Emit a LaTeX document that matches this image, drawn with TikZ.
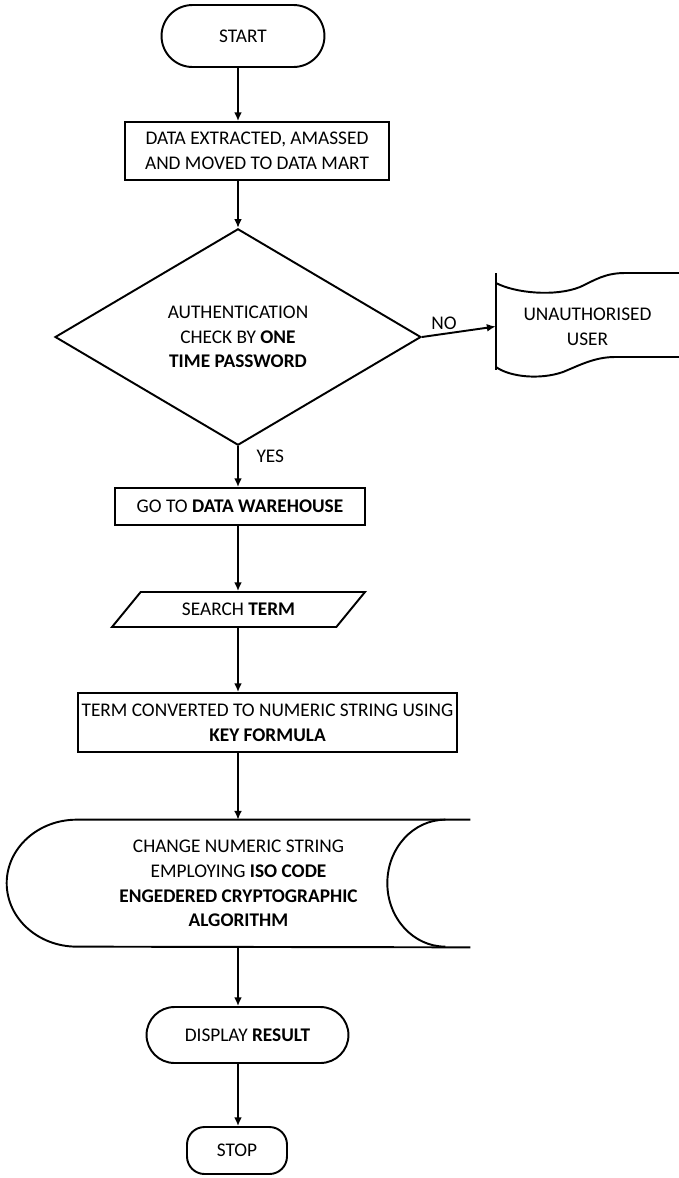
\documentclass[tikz,border=0pt]{standalone}
\usepackage{fontspec}
\setmainfont{Carlito}
\usepackage{tikz}
\usetikzlibrary{shapes.geometric, shapes.misc, arrows.meta}

\begin{document}
\begin{tikzpicture}[
    x=0.02cm, y=-0.02cm,
    every node/.style={font=\fontsize{11}{14}\selectfont, align=center, inner sep=2pt},
    terminal/.style={rounded rectangle, draw, line width=1.1pt},
    process/.style={rectangle, draw, line width=1.1pt},
    decision/.style={diamond, draw, line width=1.1pt, minimum width=7.32cm, minimum height=3.48cm},
    inout/.style={trapezium, trapezium left angle=34.5, trapezium right angle=145.5, draw, line width=1.1pt, minimum height=0.7cm, trapezium stretches body},
    outline/.style={line width=1.1pt},
    arrow/.style={-{Latex[length=5pt, width=4.5pt]}, line width=1.1pt}
]
\useasboundingbox (0,0) rectangle (679,1178);
\coordinate (axis) at (238,0);

\node[terminal, minimum width=3.4cm, minimum height=1.24cm] (start) at (243,36) {START};
\node[process, minimum width=5.28cm, minimum height=1.16cm] (mart) at (257,151) {DATA EXTRACTED, AMASSED\\AND MOVED TO DATA MART};
\node[decision] (auth) at (238,337) {AUTHENTICATION\\CHECK BY \textbf{ONE}\\\textbf{TIME PASSWORD}};
\node[minimum width=3.66cm, minimum height=1.94cm] (user) at (587.5,326.5) {UNAUTHORISED\\USER};
\node[process, minimum width=5cm, minimum height=0.74cm] (whouse) at (240,506.5) {GO TO \textbf{DATA WAREHOUSE}};
\node[inout, minimum width=5.06cm] (search) at (238.5,609.5) {SEARCH \textbf{TERM}};
\node[process, minimum width=7.1cm, minimum height=1.18cm] (convert) at (267.5,722.5) {TERM CONVERTED TO NUMERIC STRING USING\\\textbf{KEY FORMULA}};
\node[minimum width=9.26cm, minimum height=2.54cm] (crypt) at (238.5,883.5) {CHANGE NUMERIC STRING\\EMPLOYING \textbf{ISO CODE}\\\textbf{ENGEDERED CRYPTOGRAPHIC}\\\textbf{ALGORITHM}};
\node[terminal, minimum width=4.18cm, minimum height=1.12cm] (display) at (247.5,1035) {DISPLAY \textbf{RESULT}};
\node[process, rounded corners=0.35cm, minimum width=2cm, minimum height=0.94cm] (stop) at (237,1150.5) {STOP};

% wavy banner behind the user node
\draw[outline] (496,273) -- (496,370);
\draw[outline] (496,283) .. controls (515,293) and (555,297) .. (580,287)
    .. controls (595,280) and (605,273) .. (625,273) -- (679,273);
\draw[outline] (496,367) .. controls (510,377) and (540,380) .. (563,372)
    .. controls (580,365) and (595,357) .. (615,357) -- (679,357);

% stored data outline round the crypt node
\draw[outline] (crypt.north east) -- ([xshift=1.4cm]crypt.north west)
    arc[start angle=90, end angle=270, x radius=1.4cm, y radius=1.27cm] -- (crypt.south east);
\draw[outline] ([xshift=-0.5cm]crypt.north east)
    arc[start angle=90, end angle=270, x radius=1.16cm, y radius=1.27cm];

\draw[arrow] (start.south -| axis) -- (mart.north -| axis);
\draw[arrow] (mart.south -| axis) -- (auth.north);
\draw[arrow] (auth.east) -- node[above, pos=0.3] {NO} (user.west);
\draw[arrow] (auth.south) -- node[right, pos=0.25, xshift=8pt] {YES} (whouse.north -| axis);
\draw[arrow] (whouse.south -| axis) -- (search.north -| axis);
\draw[arrow] (search.south -| axis) -- (convert.north -| axis);
\draw[arrow] (convert.south -| axis) -- (crypt.north -| axis);
\draw[arrow] (crypt.south -| axis) -- (display.north -| axis);
\draw[arrow] (display.south -| axis) -- (stop.north -| axis);
\end{tikzpicture}
\end{document}
